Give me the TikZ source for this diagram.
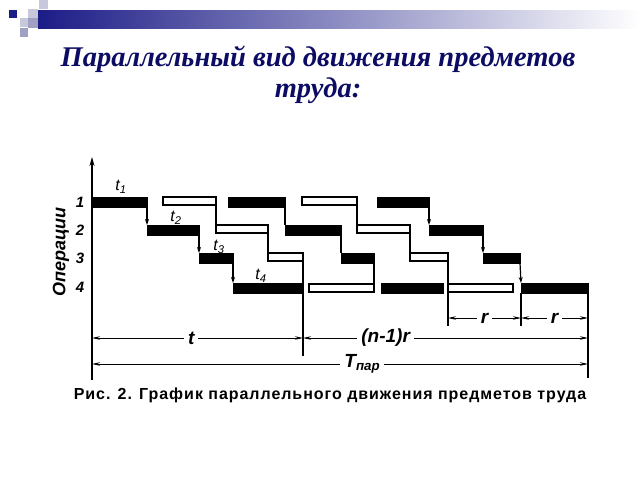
\documentclass[tikz,border=0pt]{standalone}
\usepackage{fontspec}
\setmainfont{Liberation Serif}
\newfontfamily\lblfont{Liberation Sans}
\newfontfamily\capfont[LetterSpace=6]{Liberation Sans}
\usetikzlibrary{positioning, arrows.meta}
\definecolor{navy}{RGB}{12,12,100}
\definecolor{barblue}{RGB}{28,28,135}
\definecolor{sqlight}{RGB}{200,200,220}
\definecolor{sqmid}{RGB}{160,160,195}

\begin{document}
\begin{tikzpicture}[x=1pt, y=-1pt,
    blkbar/.style={rectangle, draw, fill=black, minimum height=10pt, inner sep=0pt, outer sep=0pt, anchor=west},
    whtbar/.style={rectangle, draw, line width=1.1pt, fill=white, minimum height=8pt, inner sep=0pt, outer sep=0pt, anchor=west},
    link/.style={line width=1.2pt},
    arrlink/.style={line width=1.2pt, -{Stealth[length=6pt, width=4pt]}},
    dim/.style={line width=0.9pt, {Stealth[length=8pt, width=3.5pt]}-{Stealth[length=8pt, width=3.5pt]}},
    lbl/.style={font=\lblfont\itshape\fontsize{16}{16}\selectfont, inner sep=1pt},
    gap/.style={font=\lblfont\bfseries\itshape\fontsize{19}{19}\selectfont, fill=white, inner sep=4pt},
    opnum/.style={font=\lblfont\bfseries\itshape\fontsize{15}{15}\selectfont, inner sep=1pt}
]
    \useasboundingbox (0,0) rectangle (640,480);
    \fill[white] (0,0) rectangle (640,480);

    % header
    \shade[left color=barblue, right color=white] (38,10) rectangle (640,28);
    \fill[barblue] (9,10) rectangle (17,18);
    \fill[sqlight] (39,0) rectangle (48,9);
    \fill[sqlight] (28,9) rectangle (38,18);
    \fill[sqmid] (28,18) rectangle (38,28);
    \fill[sqlight] (20,18) rectangle (28,27);
    \fill[sqmid] (20,28) rectangle (28,37);

    % title
    \node[font=\bfseries\itshape\fontsize{28.5}{31}\selectfont, text=navy, align=center] (title) at (318,75)
        {Параллельный вид движения предметов\\труда:};

    % axis
    \coordinate (ax0) at (92,380);
    \coordinate (ax1) at (92,157);
    \draw[line width=1.2pt, -{Stealth[length=9pt, width=5pt]}] (ax0) -- (ax1);
    \node[font=\lblfont\bfseries\itshape\fontsize{18}{18}\selectfont, rotate=90] (ops) at (61,252) {Операции};
    \node[opnum] (n1) at (80,202) {1};
    \node[opnum] (n2) at (80,230) {2};
    \node[opnum] (n3) at (80,258) {3};
    \node[opnum] (n4) at (80,287) {4};

    % operation 1
    \node[blkbar, minimum width=55pt] (b11) at (92,202) {};
    \node[whtbar, minimum width=53pt] (b12) at (163,201) {};
    \node[blkbar, minimum width=57pt] (b13) at (228,202) {};
    \node[whtbar, minimum width=55pt] (b14) at (302,201) {};
    \node[blkbar, minimum width=52pt] (b15) at (377,202) {};
    % operation 2
    \node[blkbar, minimum width=52pt] (b21) at (147,230) {};
    \node[whtbar, minimum width=52pt] (b22) at (216,229) {};
    \node[blkbar, minimum width=56pt] (b23) at (285,230) {};
    \node[whtbar, minimum width=53pt] (b24) at (357,229) {};
    \node[blkbar, minimum width=54pt] (b25) at (429,230) {};
    % operation 3
    \node[blkbar, minimum width=34pt] (b31) at (199,258) {};
    \node[whtbar, minimum width=35pt] (b32) at (268,257) {};
    \node[blkbar, minimum width=33pt] (b33) at (341,258) {};
    \node[whtbar, minimum width=38pt] (b34) at (410,257) {};
    \node[blkbar, minimum width=37pt] (b35) at (483,258) {};
    % operation 4
    \node[blkbar, minimum width=70pt] (b41) at (233,288) {};
    \node[whtbar, minimum width=65pt] (b42) at (309,288) {};
    \node[blkbar, minimum width=62pt] (b43) at (381,288) {};
    \node[whtbar, minimum width=65pt] (b44) at (448,288) {};
    \node[blkbar, minimum width=67pt] (b45) at (521,288) {};

    % transfers between operations
    \draw[arrlink] (b11.south east) -- (b21.north west);
    \draw[arrlink] (b21.south east) -- (b31.north west);
    \draw[arrlink] (b31.south east) -- (b41.north west);
    \draw[link] (b12.south east) -- (b22.north west);
    \draw[link] (b22.south east) -- (b32.north west);
    \draw[link] (b13.south east) -- (b23.north west);
    \draw[link] (b23.south east) -- (b33.north west);
    \draw[link] (b33.south east) -- (b42.north east);
    \draw[link] (b14.south east) -- (b24.north west);
    \draw[link] (b24.south east) -- (b34.north west);
    \draw[arrlink] (b15.south east) -- (b25.north west);
    \draw[arrlink] (b25.south east) -- (b35.north west);
    \draw[arrlink] (b35.south east) -- (b45.north west);

    % extension lines
    \coordinate (e1) at (303,356);
    \coordinate (e2) at (448,326);
    \coordinate (e3) at (521,326);
    \coordinate (e4) at (588,378);
    \draw[link] (b32.south east) -- (e1);
    \draw[link] (b34.south east) -- (e2);
    \draw[link] (b45.south west) -- (e3);
    \draw[link] (b45.south east) -- (e4);

    % dimensions
    \coordinate (r0) at (448,318);
    \coordinate (r1) at (521,318);
    \coordinate (r2) at (588,318);
    \coordinate (t0) at (92,338);
    \coordinate (t1) at (303,338);
    \coordinate (t2) at (588,338);
    \coordinate (T0) at (92,364);
    \coordinate (T1) at (588,364);
    \draw[dim] (r0) -- node[gap] (lr1) {r} (r1);
    \draw[dim] (r1) -- node[gap] (lr2) {r} (r2);
    \draw[dim] (t0) -- node[gap, pos=0.47] (lt) {t} (t1);
    \draw[dim] (t1) -- node[gap, pos=0.29] (lnr) {(n-1)r} (t2);
    \draw[dim] (T0) -- node[gap, pos=0.545] (lT) {T\textsubscript{пар}} (T1);

    % durations
    \node[lbl] (lt1) at (121,187) {t\textsubscript{1}};
    \node[lbl] (lt2) at (176,218) {t\textsubscript{2}};
    \node[lbl] (lt3) at (219,247) {t\textsubscript{3}};
    \node[lbl] (lt4) at (261,276) {t\textsubscript{4}};

    % caption
    \node[font=\capfont\bfseries\fontsize{16}{17}\selectfont] (cap) at (330,395)
        {Рис. 2. График параллельного движения предметов труда};
\end{tikzpicture}
\end{document}
